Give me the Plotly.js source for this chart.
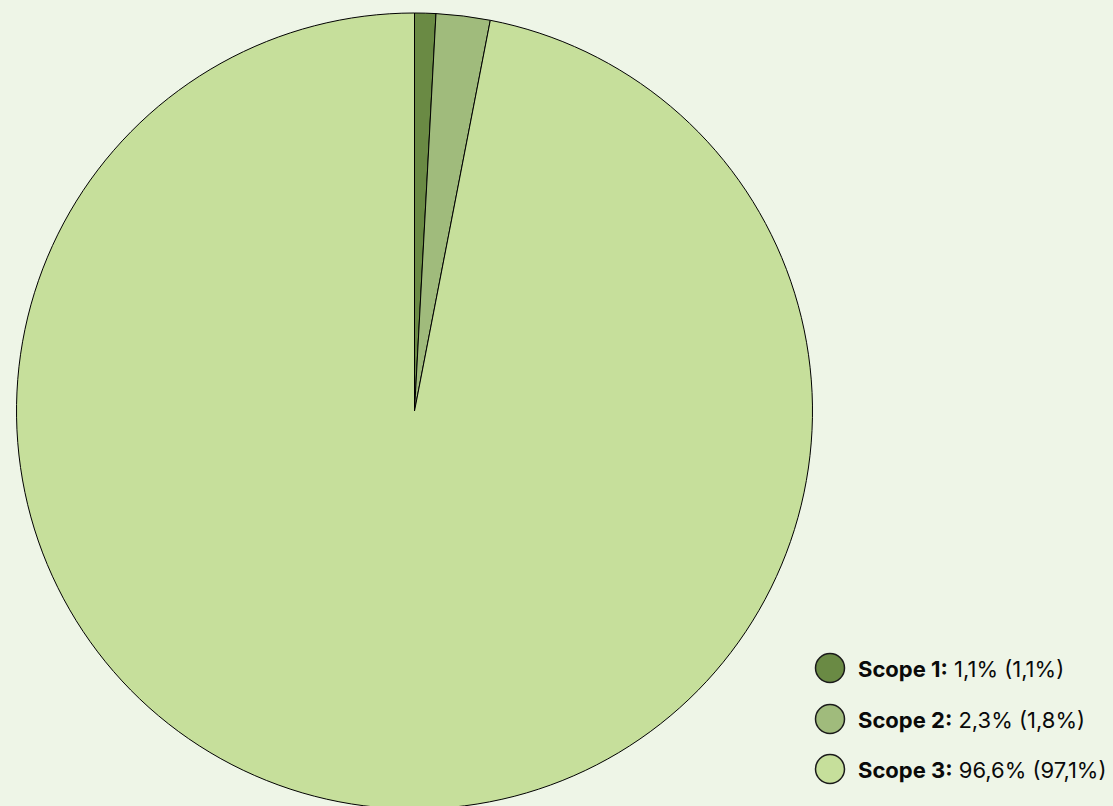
<!DOCTYPE html>
<html>
<head>
<meta charset="utf-8">
<script src="https://cdn.plot.ly/plotly-3.0.1.min.js"></script>
<style>
html,body{margin:0;padding:0;background:#eef5e7;overflow:hidden;}
#wrap{width:1113px;height:806px;overflow:hidden;}
#chart{width:1113px;height:820px;}
</style>
</head>
<body>
<div id="wrap"><div id="chart"></div></div>
<script>
// Data
const categories = ["Scope 1", "Scope 2", "Scope 3"];
const sliceValues = [0.86, 2.19, 96.95];          // slice sizes as drawn
const shareLabels = ["1,1%", "2,3%", "96,6%"];     // legend shares
const prevShareLabels = ["1,1%", "1,8%", "97,1%"]; // legend values in parentheses
const colors = ["#6a8a44", "#a0bb7c", "#c6df9b"];

const W = 1113, H = 820;
const px = x => x / W;
const py = y => 1 - y / H;

const pie = {
  type: "pie",
  labels: categories,
  values: sliceValues,
  sort: false,
  direction: "clockwise",
  rotation: 0,
  marker: {colors: colors, line: {color: "#000000", width: 1}},
  textinfo: "none",
  hoverinfo: "none",
  showlegend: false,
  domain: {x: [px(16), px(813)], y: [py(809), py(13)]}
};

const legendY = [668, 719, 769];
const shapes = [];
const annotations = [];
categories.forEach((c, i) => {
  const cx = 830, cy = legendY[i], r = 14.5;
  shapes.push({
    type: "circle", xref: "paper", yref: "paper",
    x0: px(cx - r), x1: px(cx + r), y0: py(cy + r), y1: py(cy - r),
    fillcolor: colors[i], line: {color: "#1a1a1a", width: 1.5}
  });
  annotations.push({
    xref: "paper", yref: "paper", x: px(856), y: py(cy + 1),
    xanchor: "left", yanchor: "middle", showarrow: false,
    text: "<b>" + c + ":</b> " + shareLabels[i] + " (" + prevShareLabels[i] + ")",
    font: {family: "Inter, 'Liberation Sans', sans-serif", size: 22, color: "#0a0a0a"}
  });
});

const layout = {
  width: W, height: H,
  margin: {l: 0, r: 0, t: 0, b: 0},
  paper_bgcolor: "#eef5e7",
  plot_bgcolor: "#eef5e7",
  shapes: shapes,
  annotations: annotations
};

Plotly.newPlot("chart", [pie], layout, {displayModeBar: false, staticPlot: true});
</script>
</body>
</html>
